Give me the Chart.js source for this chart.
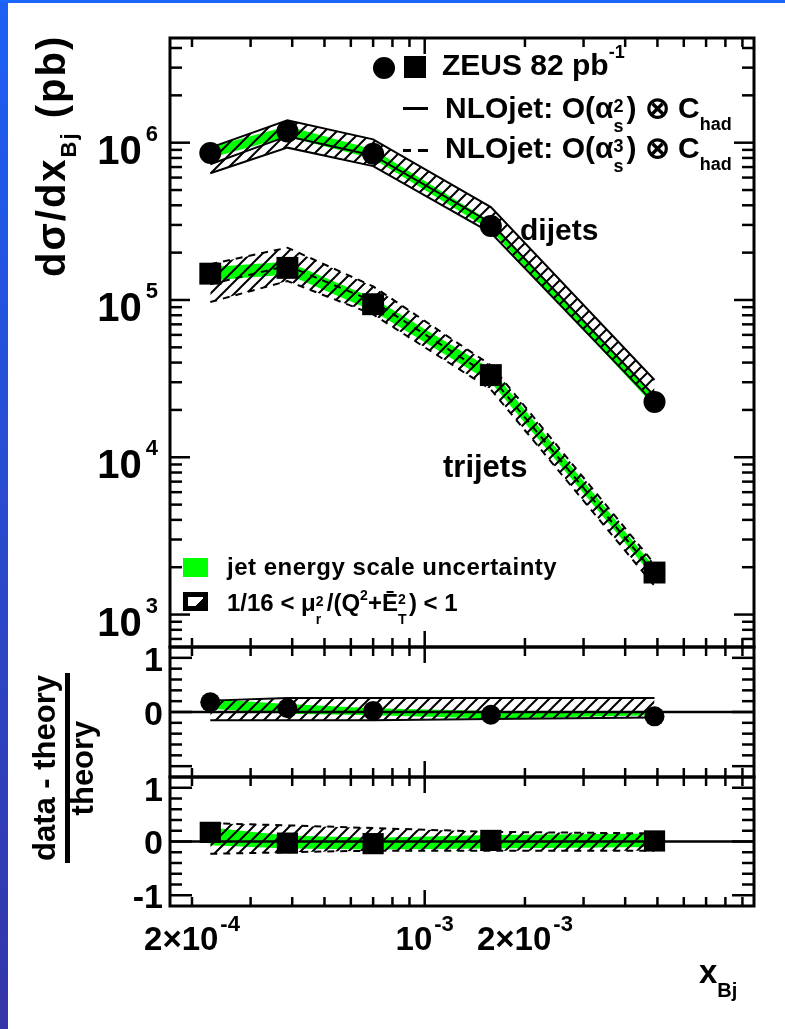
<!DOCTYPE html>
<html><head><meta charset="utf-8">
<script src="https://cdn.jsdelivr.net/npm/chart.js@4.4.1/dist/chart.umd.min.js"></script>
<style>
html,body{margin:0;padding:0;}
body{width:785px;height:1029px;position:relative;overflow:hidden;background:linear-gradient(#1c60f6,#3535a8);font-family:'Liberation Sans',Arial,Helvetica,sans-serif;font-weight:bold;color:#000;}
#topbar{position:absolute;left:0;top:0;width:785px;height:3px;background:#1a66ff;}
#panel{position:absolute;left:8px;top:3px;right:0;bottom:0;background:#fff;}
canvas{position:absolute;left:0;top:0;}
.t{position:absolute;white-space:nowrap;line-height:1;}
.rot{transform-origin:0 0;transform:rotate(-90deg);}
.ss{display:inline-block;position:relative;height:1px;}
.ss span{position:absolute;left:0;line-height:1;}
.box{position:absolute;}
</style></head>
<body>
<div id="topbar"></div>
<div id="panel"></div>
<canvas id="cA" width="785" height="1029"></canvas>
<canvas id="cB" width="785" height="1029"></canvas>
<canvas id="cC" width="785" height="1029"></canvas>

<!-- legend -->
<div class="box" style="left:373px;top:57px;width:22px;height:22px;border-radius:50%;background:#000"></div>
<div class="box" style="left:404px;top:56px;width:22px;height:22px;background:#000"></div>
<div class="t" style="left:442px;top:49.6px;font-size:30px">ZEUS 82 pb<span style="font-size:18px;position:relative;top:-17px">-1</span></div>

<div class="box" style="left:403px;top:107px;width:25px;height:3px;background:#000"></div>
<div class="t" style="left:445px;top:92.6px;font-size:30px">NLOjet: O(α<span class="ss" style="width:13px"><span style="font-size:18px;top:-20px">2</span><span style="font-size:18px;top:0px">s</span></span>) ⊗ C<span style="font-size:18px;position:relative;top:12px">had</span></div>

<div class="box" style="left:403px;top:149px;width:8px;height:3px;background:#000"></div>
<div class="box" style="left:418px;top:149px;width:10px;height:3px;background:#000"></div>
<div class="t" style="left:445px;top:132.6px;font-size:30px">NLOjet: O(α<span class="ss" style="width:13px"><span style="font-size:18px;top:-20px">3</span><span style="font-size:18px;top:0px">s</span></span>) ⊗ C<span style="font-size:18px;position:relative;top:12px">had</span></div>

<div class="box" style="left:183px;top:558px;width:25px;height:19px;background:#00ff00"></div>
<div class="t" style="left:227px;top:554.7px;font-size:24px;letter-spacing:0.5px">jet energy scale uncertainty</div>
<div class="box" style="left:183px;top:592px;width:25px;height:19px;box-sizing:border-box;border:5px solid #000;background:linear-gradient(135deg,#fff 68%,#000 68%)"></div>
<div class="t" style="left:227px;top:590.7px;font-size:24px">1/16 &lt; μ<span class="ss" style="width:11px"><span style="font-size:14px;top:-16px">2</span><span style="font-size:14px;top:2px">r</span></span>/(Q<span style="font-size:14px;position:relative;top:-11px">2</span>+Ē<span class="ss" style="width:11px"><span style="font-size:14px;top:-18px">2</span><span style="font-size:14px;top:2px">T</span></span>) &lt; 1</div>

<div class="t" style="left:520px;top:214.6px;font-size:30px">dijets</div>
<div class="t" style="left:443px;top:450.8px;font-size:31px">trijets</div>

<!-- axis titles -->
<div class="t rot" style="left:31px;top:277px;width:240px;text-align:right;font-size:40px;letter-spacing:2px">dσ/dx<span style="font-size:22px;position:relative;top:11px">Bj</span> (pb)</div>
<div class="t rot" style="left:28.7px;top:898px;width:260px;text-align:center;font-size:31px">data - theory</div>
<div class="box" style="left:65px;top:673px;width:5px;height:190px;background:#000"></div>
<div class="t rot" style="left:66.7px;top:898px;width:260px;text-align:center;font-size:31px">theory</div>
<div class="t" style="left:699px;top:955px;font-size:33px">x<span style="font-size:20px;position:relative;top:14px">Bj</span></div>

<script>
// ---------------- data ----------------
const xBj = [2.27e-4, 3.87e-4, 7.0e-4, 1.58e-3, 4.9e-3];

const dijetsData    = [8.6e5, 1.18e6, 8.5e5, 2.95e5, 2.25e4];
const trijetsData   = [1.47e5, 1.6e5, 9.4e4, 3.33e4, 1.85e3];

const dijetsJesUp     = [9.4e5, 1.27e6, 9.1e5, 3.15e5, 2.4e4];
const dijetsJesDown   = [8.0e5, 1.09e6, 7.9e5, 2.78e5, 2.1e4];
const trijetsJesUp    = [1.62e5, 1.75e5, 1.03e5, 3.65e4, 2.0e3];
const trijetsJesDown  = [1.33e5, 1.45e5, 8.5e4, 3.0e4, 1.7e3];

const dijetsNLO       = [7.3e5, 1.1e6, 8.3e5, 3.1e5, 2.45e4];
const dijetsNLOUp     = [9.3e5, 1.39e6, 1.05e6, 3.9e5, 3.1e4];
const dijetsNLODown   = [6.4e5, 9.3e5, 7.1e5, 2.67e5, 2.2e4];
const trijetsNLO      = [1.26e5, 1.65e5, 9.8e4, 3.26e4, 1.83e3];
const trijetsNLOUp    = [1.69e5, 2.15e5, 1.22e5, 3.85e4, 2.1e3];
const trijetsNLODown  = [9.7e4, 1.32e5, 8.1e4, 2.7e4, 1.52e3];

const dijetsRatio          = [0.18, 0.07, 0.02, -0.05, -0.08];
const dijetsRatioJesUp     = [0.24, 0.15, 0.07, 0.02, 0.0];
const dijetsRatioJesDown   = [0.06, -0.03, -0.06, -0.12, -0.06];
const dijetsRatioScaleUp   = [0.21, 0.26, 0.26, 0.26, 0.26];
const dijetsRatioScaleDown = [-0.15, -0.15, -0.15, -0.13, -0.10];

const trijetsRatio          = [0.17, -0.03, -0.04, 0.02, 0.01];
const trijetsRatioJesUp     = [0.26, 0.11, 0.07, 0.12, 0.15];
const trijetsRatioJesDown   = [-0.07, -0.13, -0.15, -0.13, -0.10];
const trijetsRatioScaleUp   = [0.34, 0.30, 0.25, 0.18, 0.15];
const trijetsRatioScaleDown = [-0.23, -0.20, -0.17, -0.17, -0.17];

// tick labels (base text + superscript exponent)
const xTickValues = [2e-4, 1e-3, 2e-3];
const xTickBase   = ['2×10', '10', '2×10'];
const xTickExp    = ['-4', '-3', '-3'];
const yMainTickValues = [1e3, 1e4, 1e5, 1e6];
const yMainTickBase   = ['10', '10', '10', '10'];
const yMainTickExp    = ['3', '4', '5', '6'];
const yRatio1TickValues = [0, 1];
const yRatio1TickLabels = ['0', '1'];
const yRatio2TickValues = [-1, 0, 1];
const yRatio2TickLabels = ['-1', '0', '1'];

// axis ranges
const X_MIN = 1.718e-4, X_MAX = 9.75e-3;
const Y_MIN = 622, Y_MAX = 4.63e6;
const R_MIN = -1.2, R_MAX = 1.2;

// ---------------- helpers ----------------
const FONT = "'Liberation Sans', Arial, Helvetica, sans-serif";
const pts = ys => xBj.map((x, i) => ({x: x, y: ys[i]}));

function hatch(ctx) {
  const c = document.createElement('canvas');
  c.width = 12; c.height = 12;
  const g = c.getContext('2d');
  g.strokeStyle = '#000'; g.lineWidth = 2;
  g.beginPath();
  g.moveTo(0, 12); g.lineTo(12, 0);
  g.moveTo(-3, 3); g.lineTo(3, -3);
  g.moveTo(9, 15); g.lineTo(15, 9);
  g.stroke();
  return ctx.createPattern(c, 'repeat');
}

function logMinor(lo, hi) {
  const out = [];
  for (let e = -6; e <= 8; e++) {
    for (let m = 2; m <= 9; m++) {
      const v = m * Math.pow(10, e);
      if (v > lo && v < hi) out.push(v);
    }
  }
  return out;
}
function logMajor(lo, hi) {
  const out = [];
  for (let e = -6; e <= 8; e++) { const v = Math.pow(10, e); if (v > lo && v < hi) out.push(v); }
  return out;
}

function framePlugin(cfg) {
  return {
    id: 'rootFrame' + cfg.name,
    afterDatasetsDraw(chart) {
      const ctx = chart.ctx, a = chart.chartArea, xs = chart.scales.x, ys = chart.scales.y;
      ctx.save();
      ctx.strokeStyle = '#000';
      const seg = (x1, y1, x2, y2) => { ctx.beginPath(); ctx.moveTo(x1, y1); ctx.lineTo(x2, y2); ctx.stroke(); };
      ctx.lineWidth = 2.5;
      if (cfg.zero) { const y0 = ys.getPixelForValue(0); seg(a.left, y0, a.right, y0); }
      const xMinor = logMinor(X_MIN, X_MAX), xMajor = logMajor(X_MIN, X_MAX);
      xMinor.forEach(v => { const p = xs.getPixelForValue(v); seg(p, a.top, p, a.top + 9); seg(p, a.bottom, p, a.bottom - 9); });
      xMajor.forEach(v => { const p = xs.getPixelForValue(v); seg(p, a.top, p, a.top + 16); seg(p, a.bottom, p, a.bottom - 16); });
      cfg.yMinor.forEach(v => { const p = ys.getPixelForValue(v); seg(a.left, p, a.left + cfg.yMinorLen, p); seg(a.right, p, a.right - cfg.yMinorLen, p); });
      cfg.yMajor.forEach(v => { const p = ys.getPixelForValue(v); seg(a.left, p, a.left + cfg.yMajorLen, p); seg(a.right, p, a.right - cfg.yMajorLen, p); });
      ctx.lineWidth = 3;
      ctx.strokeRect(a.left, a.top, a.right - a.left, a.bottom - a.top);

      // power-of-ten tick labels with raised exponents
      ctx.fillStyle = '#000';
      ctx.textBaseline = 'alphabetic';
      ctx.textAlign = 'left';
      if (cfg.yPow) {
        yMainTickValues.forEach((v, i) => {
          const p = ys.getPixelForValue(v);
          ctx.font = 'bold 40px ' + FONT;
          const w1 = ctx.measureText(yMainTickBase[i]).width;
          ctx.font = 'bold 22px ' + FONT;
          const w2 = ctx.measureText(yMainTickExp[i]).width;
          const x0 = 158 - (w1 + 4 + w2);
          ctx.font = 'bold 40px ' + FONT;
          ctx.fillText(yMainTickBase[i], x0, p + 21);
          ctx.font = 'bold 22px ' + FONT;
          ctx.fillText(yMainTickExp[i], x0 + w1 + 4, p - 2);
        });
      }
      if (cfg.xPow) {
        xTickValues.forEach((v, i) => {
          const p = xs.getPixelForValue(v);
          ctx.font = 'bold 33px ' + FONT;
          const w1 = ctx.measureText(xTickBase[i]).width;
          ctx.font = 'bold 22px ' + FONT;
          const w2 = ctx.measureText(xTickExp[i]).width;
          const x0 = p - (w1 + 2 + w2) / 2;
          ctx.font = 'bold 33px ' + FONT;
          ctx.fillText(xTickBase[i], x0, a.bottom + 44);
          ctx.font = 'bold 22px ' + FONT;
          ctx.fillText(xTickExp[i], x0 + w1 + 2, a.bottom + 25);
        });
      }
      ctx.restore();
    }
  };
}

function xScale(show) {
  const s = {
    type: 'logarithmic', min: X_MIN, max: X_MAX, display: show,
    grid: {display: false, drawTicks: false, tickLength: 0}, border: {display: false}
  };
  if (show) {
    s.afterBuildTicks = sc => { sc.ticks = xTickValues.map(v => ({value: v})); };
    s.afterFit = sc => { sc.height = 60; };
    s.ticks = {display: false, autoSkip: false, maxRotation: 0, minRotation: 0};
  }
  return s;
}

function yScale(type, min, max, vals, labels, size, pad, off) {
  return {
    type: type, min: min, max: max, position: 'left',
    grid: {display: false, drawTicks: false, tickLength: 0}, border: {display: false},
    afterBuildTicks: sc => { sc.ticks = vals.map(v => ({value: v})); },
    afterFit: sc => { sc.width = 170; },
    ticks: {display: !!labels, autoSkip: false, padding: pad, labelOffset: off, color: '#000',
      font: {family: FONT, size: size, weight: 'bold'},
      callback: (v, i) => labels ? labels[i] : ''}
  };
}

function baseOpts(padTop, padBottom, scales) {
  return {
    responsive: false, animation: false, devicePixelRatio: 1,
    layout: {padding: {left: 0, right: 31, top: padTop, bottom: padBottom}},
    plugins: {legend: {display: false}, tooltip: {enabled: false}},
    elements: {line: {tension: 0}, point: {radius: 0}},
    scales: scales
  };
}

function lineDs(ys, color, width, dash, order, extra) {
  return Object.assign({data: pts(ys), borderColor: color, borderWidth: width, borderDash: dash,
    pointRadius: 0, fill: false, order: order}, extra || {});
}
function markerDs(ys, style, r, order) {
  return {data: pts(ys), showLine: false, pointStyle: style, pointRadius: r, pointHoverRadius: r,
    pointBackgroundColor: '#000', pointBorderColor: '#000', pointBorderWidth: 0, order: order, borderWidth: 0};
}

// ---------------- main panel ----------------
const ctxA = document.getElementById('cA').getContext('2d');
const hA = hatch(ctxA);
new Chart(ctxA, {
  type: 'line',
  data: {datasets: [
    markerDs(dijetsData, 'circle', 11, 0),                              // 0
    markerDs(trijetsData, 'rect', 15.5, 0),                             // 1
    lineDs(dijetsNLO, '#000', 2, [], 1),                                // 2
    lineDs(trijetsNLO, '#000', 2, [7, 6], 1),                           // 3
    lineDs(dijetsNLOUp, '#000', 2, [], 2, {fill: 5, backgroundColor: hA}),   // 4
    lineDs(dijetsNLODown, '#000', 2, [], 2),                            // 5
    lineDs(trijetsNLOUp, '#000', 2, [7, 6], 2, {fill: 7, backgroundColor: hA}), // 6
    lineDs(trijetsNLODown, '#000', 2, [7, 6], 2),                       // 7
    lineDs(dijetsJesUp, 'rgba(0,0,0,0)', 0, [], 3, {fill: 9, backgroundColor: '#00ff00'}),  // 8
    lineDs(dijetsJesDown, 'rgba(0,0,0,0)', 0, [], 3),                   // 9
    lineDs(trijetsJesUp, 'rgba(0,0,0,0)', 0, [], 3, {fill: 11, backgroundColor: '#00ff00'}), // 10
    lineDs(trijetsJesDown, 'rgba(0,0,0,0)', 0, [], 3)                   // 11
  ]},
  options: baseOpts(38, 1029 - 647, {
    x: xScale(false),
    y: yScale('logarithmic', Y_MIN, Y_MAX, yMainTickValues, null, 40, 13, 7)
  }),
  plugins: [framePlugin({name: 'A', yPow: true, yMinor: logMinor(Y_MIN, Y_MAX), yMajor: logMajor(Y_MIN, Y_MAX), yMinorLen: 12, yMajorLen: 20})]
});

// ---------------- ratio panels ----------------
const rMinor = [-0.8, -0.6, -0.4, -0.2, 0.2, 0.4, 0.6, 0.8];
const rMajor = [-1, 0, 1];

const ctxB = document.getElementById('cB').getContext('2d');
const hB = hatch(ctxB);
new Chart(ctxB, {
  type: 'line',
  data: {datasets: [
    markerDs(dijetsRatio, 'circle', 10, 0),
    lineDs(dijetsRatioScaleUp, '#000', 2, [], 2, {fill: 2, backgroundColor: hB}),
    lineDs(dijetsRatioScaleDown, '#000', 2, [], 2),
    lineDs(dijetsRatioJesUp, 'rgba(0,0,0,0)', 0, [], 3, {fill: 4, backgroundColor: '#00ff00'}),
    lineDs(dijetsRatioJesDown, 'rgba(0,0,0,0)', 0, [], 3)
  ]},
  options: baseOpts(647, 1029 - 777, {
    x: xScale(false),
    y: yScale('linear', R_MIN, R_MAX, yRatio1TickValues, yRatio1TickLabels, 34, 7, 3.5)
  }),
  plugins: [framePlugin({name: 'B', zero: true, yMinor: rMinor, yMajor: rMajor, yMinorLen: 12, yMajorLen: 22})]
});

const ctxC = document.getElementById('cC').getContext('2d');
const hC = hatch(ctxC);
new Chart(ctxC, {
  type: 'line',
  data: {datasets: [
    markerDs(trijetsRatio, 'rect', 15, 0),
    lineDs(trijetsRatioScaleUp, '#000', 2, [7, 6], 2, {fill: 2, backgroundColor: hC}),
    lineDs(trijetsRatioScaleDown, '#000', 2, [7, 6], 2),
    lineDs(trijetsRatioJesUp, 'rgba(0,0,0,0)', 0, [], 3, {fill: 4, backgroundColor: '#00ff00'}),
    lineDs(trijetsRatioJesDown, 'rgba(0,0,0,0)', 0, [], 3)
  ]},
  options: baseOpts(777, 1029 - 906 - 60, {
    x: xScale(true),
    y: yScale('linear', R_MIN, R_MAX, yRatio2TickValues, yRatio2TickLabels, 34, 7, 3.5)
  }),
  plugins: [framePlugin({name: 'C', zero: true, xPow: true, yMinor: rMinor, yMajor: rMajor, yMinorLen: 12, yMajorLen: 22})]
});
</script>
</body></html>
